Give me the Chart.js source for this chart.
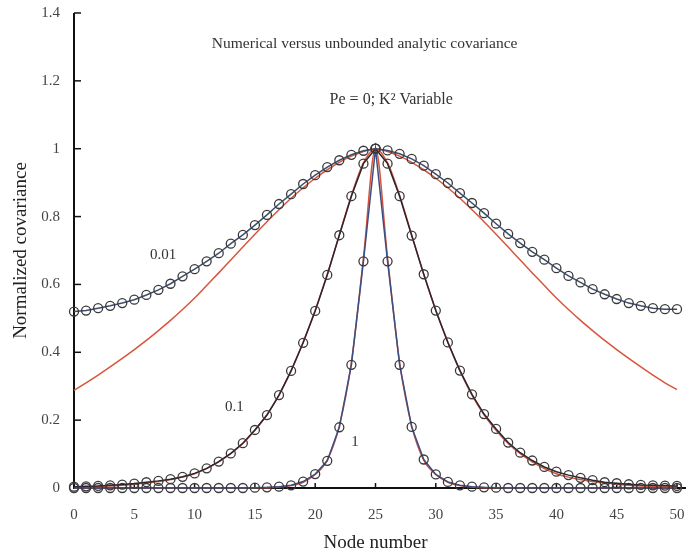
<!DOCTYPE html>
<html>
<head>
<meta charset="utf-8">
<script src="https://cdn.jsdelivr.net/npm/chart.js@4.4.1/dist/chart.umd.min.js"></script>
<style>
  html, body { margin: 0; background: #fff; }
  canvas { display: block; }
</style>
</head>
<body>
<canvas id="covChart" width="686" height="554"></canvas>
<script>
// node positions along the grid
const nodes = [0,1,2,3,4,5,6,7,8,9,10,11,12,13,14,15,16,17,18,19,20,21,22,23,24,25,
  26,27,28,29,30,31,32,33,34,35,36,37,38,39,40,41,42,43,44,45,46,47,48,49,50];

// numerical covariance (circles), K^2 = 0.01 / 0.1 / 1
const num001 = [0.520,0.523,0.530,0.537,0.545,0.555,0.569,0.584,0.602,0.624,0.645,0.668,0.692,0.720,0.746,0.775,0.805,0.837,0.866,0.896,0.922,0.946,0.966,0.982,0.994,1.000,
  0.995,0.985,0.970,0.950,0.925,0.899,0.869,0.840,0.810,0.779,0.749,0.722,0.696,0.673,0.648,0.625,0.606,0.586,0.571,0.557,0.545,0.537,0.530,0.527,0.527];
const num01 = [0.004,0.005,0.006,0.008,0.010,0.013,0.017,0.021,0.026,0.033,0.043,0.058,0.078,0.102,0.132,0.171,0.215,0.274,0.345,0.428,0.522,0.628,0.745,0.860,0.956,1.000,
  0.956,0.860,0.744,0.630,0.523,0.429,0.346,0.276,0.218,0.174,0.134,0.104,0.081,0.062,0.048,0.038,0.030,0.023,0.017,0.014,0.011,0.009,0.008,0.007,0.006];
const num1 = [0.000,0.000,0.000,0.000,0.000,0.000,0.000,0.000,0.000,0.000,0.000,0.000,0.000,0.000,0.000,0.001,0.002,0.004,0.008,0.019,0.041,0.080,0.179,0.363,0.668,1.000,
  0.668,0.363,0.180,0.084,0.040,0.018,0.008,0.004,0.002,0.001,0.000,0.000,0.000,0.000,0.000,0.000,0.000,0.000,0.000,0.000,0.000,0.000,0.000,0.000,0.000];

// unbounded analytic covariance (red lines)
const an001 = [0.288,0.310,0.333,0.357,0.382,0.408,0.435,0.464,0.494,0.526,0.560,0.597,0.634,0.672,0.710,0.748,0.785,0.820,0.854,0.885,0.913,0.938,0.960,0.978,0.992,1.000,
  0.992,0.978,0.960,0.938,0.913,0.885,0.854,0.820,0.785,0.748,0.710,0.672,0.634,0.597,0.560,0.526,0.494,0.464,0.435,0.408,0.382,0.357,0.333,0.310,0.290];
const an01 = [0.003,0.004,0.005,0.006,0.008,0.011,0.015,0.019,0.025,0.032,0.042,0.057,0.077,0.101,0.131,0.170,0.216,0.274,0.346,0.430,0.524,0.630,0.746,0.862,0.958,1.000,
  0.958,0.862,0.746,0.630,0.524,0.430,0.346,0.274,0.216,0.170,0.131,0.101,0.077,0.057,0.042,0.032,0.025,0.019,0.015,0.011,0.008,0.006,0.005,0.004,0.003];
const an1 = [0.000,0.000,0.000,0.000,0.000,0.000,0.000,0.000,0.000,0.000,0.000,0.000,0.000,0.000,0.000,0.001,0.001,0.003,0.007,0.017,0.040,0.082,0.183,0.370,0.678,1.000,
  0.678,0.370,0.183,0.082,0.040,0.017,0.007,0.003,0.001,0.001,0.000,0.000,0.000,0.000,0.000,0.000,0.000,0.000,0.000,0.000,0.000,0.000,0.000,0.000,0.000];

const yTicks = [0, 0.2, 0.4, 0.6, 0.8, 1, 1.2, 1.4];
const xTicks = [0, 5, 10, 15, 20, 25, 30, 35, 40, 45, 50];

const notes = [
  { text: 'Numerical versus unbounded analytic covariance', x: 24.1, y: 1.31, size: 15.5 },
  { text: 'Pe = 0; K\u00B2 Variable', x: 26.3, y: 1.145, size: 16 },
  { text: '0.01', x: 7.4, y: 0.687, size: 15 },
  { text: '0.1', x: 13.3, y: 0.239, size: 15 },
  { text: '1', x: 23.3, y: 0.136, size: 15 }
];

const serif = '"Liberation Serif", "DejaVu Serif", serif';
const pts = arr => nodes.map((n, i) => ({ x: n, y: arr[i] }));

function numSet(label, arr, color) {
  return {
    label, data: pts(arr), borderColor: color, borderWidth: 1.5,
    pointRadius: 4.5, pointBorderColor: '#3a3a3a', pointBorderWidth: 1.3,
    pointBackgroundColor: 'rgba(0,0,0,0)', clip: false, order: 1
  };
}
function anSet(label, arr) {
  return {
    label, data: pts(arr), borderColor: '#d8553d', borderWidth: 1.5,
    pointRadius: 0, cubicInterpolationMode: 'monotone', clip: false, order: 2
  };
}

const axesPlugin = {
  id: 'axesPlugin',
  beforeDatasetsDraw(chart) {
    const ctx = chart.ctx, xs = chart.scales.x, ys = chart.scales.y;
    const x0 = xs.getPixelForValue(0), y0 = ys.getPixelForValue(0);
    ctx.save();
    ctx.strokeStyle = '#111';
    ctx.lineWidth = 2;
    ctx.beginPath();
    ctx.moveTo(x0, ys.getPixelForValue(1.4));
    ctx.lineTo(x0, y0);
    ctx.lineTo(chart.width, y0);
    ctx.stroke();
    ctx.lineWidth = 1.5;
    yTicks.forEach(v => {
      const p = ys.getPixelForValue(v);
      ctx.beginPath(); ctx.moveTo(x0, p); ctx.lineTo(x0 + 7, p); ctx.stroke();
    });
    xTicks.forEach(v => {
      const p = xs.getPixelForValue(v);
      ctx.beginPath(); ctx.moveTo(p, y0); ctx.lineTo(p, y0 - 5); ctx.stroke();
    });
    ctx.restore();
  },
  afterDraw(chart) {
    const ctx = chart.ctx, xs = chart.scales.x, ys = chart.scales.y;
    ctx.save();
    ctx.fillStyle = '#333';
    ctx.textAlign = 'center';
    ctx.textBaseline = 'middle';
    notes.forEach(n => {
      ctx.font = n.size + 'px ' + serif;
      ctx.fillText(n.text, xs.getPixelForValue(n.x), ys.getPixelForValue(n.y));
    });
    ctx.restore();
  }
};

new Chart(document.getElementById('covChart'), {
  type: 'line',
  data: {
    datasets: [
      anSet('Analytic 0.01', an001),
      anSet('Analytic 0.1', an01),
      anSet('Analytic 1', an1),
      numSet('Numerical 0.01', num001, '#3b4e6e'),
      numSet('Numerical 0.1', num01, '#2a2430'),
      numSet('Numerical 1', num1, '#3a4f85')
    ]
  },
  options: {
    responsive: false,
    animation: false,
    layout: { padding: { left: 0, top: 13, right: 9, bottom: 0 } },
    plugins: { legend: { display: false }, tooltip: { enabled: false } },
    scales: {
      x: {
        type: 'linear', min: 0, max: 50,
        grid: { display: false }, border: { display: false },
        ticks: { stepSize: 5, padding: 10, color: '#444', font: { family: serif, size: 15 } },
        title: { display: true, text: 'Node number', color: '#222', font: { family: serif, size: 19 }, padding: { top: 2, bottom: 0 } },
        afterFit: s => { s.height = 66; s.paddingLeft = 0; s.paddingRight = 0; }
      },
      y: {
        type: 'linear', min: 0, max: 1.4,
        grid: { display: false }, border: { display: false },
        ticks: {
          stepSize: 0.2, padding: 6, color: '#444', font: { family: serif, size: 15 },
          callback: v => String(+v.toFixed(1))
        },
        title: { display: true, text: 'Normalized covariance', color: '#222', font: { family: serif, size: 19 }, padding: { top: 10, bottom: 0 } },
        afterFit: s => { s.width = 74; s.paddingTop = 0; s.paddingBottom = 0; }
      }
    }
  },
  plugins: [axesPlugin]
});
</script>
</body>
</html>
